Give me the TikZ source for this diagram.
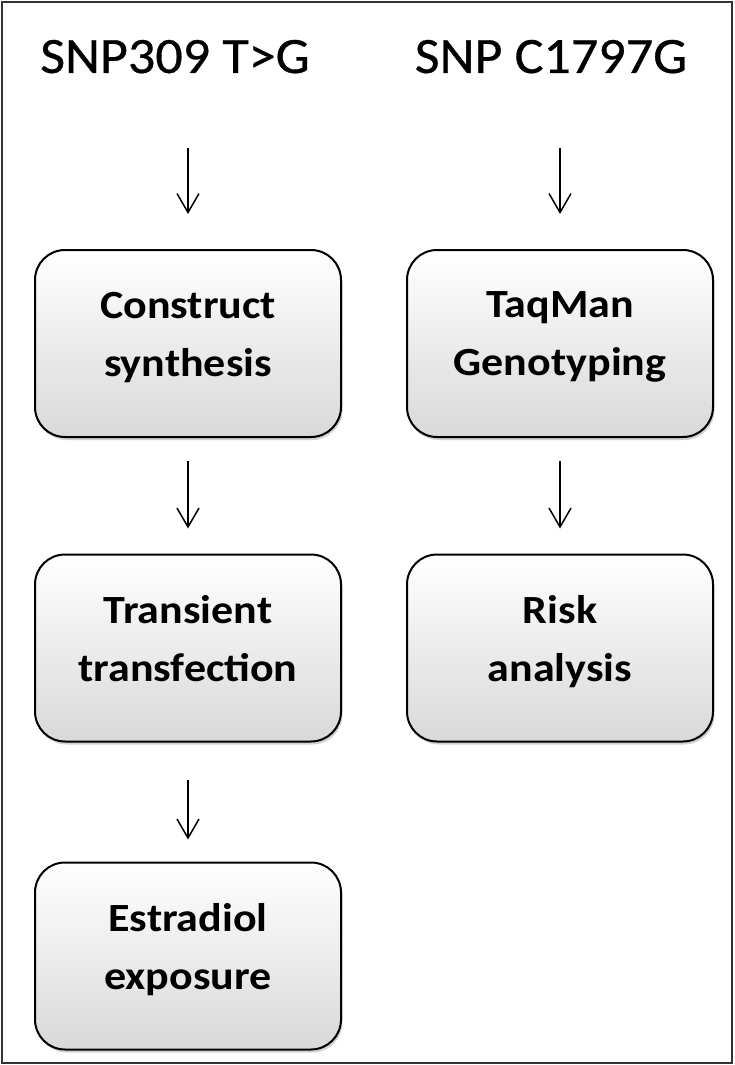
\documentclass[tikz,border=0pt]{standalone}
\usepackage{fontspec}
\setmainfont{Carlito}
\newfontfamily\boxfont[FakeStretch=1.1]{Carlito}
\newfontfamily\headfont[FakeStretch=1.06,FakeBold=0.6]{Carlito}
\usetikzlibrary{arrows.meta,shadows}
\begin{document}
\begin{tikzpicture}[x=1pt,y=-1pt,
  stepbox/.style={draw=black, line width=2pt, rounded corners=30pt,
    minimum width=306pt, minimum height=187pt, top color=white, bottom color=black!15,
    drop shadow={shadow xshift=1.5pt, shadow yshift=-3pt, fill=black!35, opacity=0.5},
    align=center, font=\boxfont\fontsize{40}{58}\selectfont\bfseries, inner sep=0pt,
    execute at end node={\rule[-19pt]{0pt}{1pt}}},
  head/.style={font=\headfont\fontsize{51}{60}\selectfont, inner sep=0pt, anchor=base},
  flow/.style={line width=1.5pt, -{Straight Barb[length=19pt,width=22pt,line width=1.5pt]}}]
\useasboundingbox (0,0) rectangle (734,1065);
\draw[line width=2pt, draw=black!80] (2,2) rectangle (732,1063);
\node[head] (h1) at (175,73) {SNP309 T>G};
\node[head] (h2) at (551,73) {SNP C1797G};
\node[stepbox] (a1) at (188,343.5) {Construct\\synthesis};
\node[stepbox] (a2) at (188,648) {Transient\\transfection};
\node[stepbox] (a3) at (188,956) {Estradiol\\exposure};
\node[stepbox] (b1) at (560,343.5) {TaqMan\\Genotyping};
\node[stepbox] (b2) at (560,648) {Risk\\analysis};
\coordinate (s1) at (188,148);
\coordinate (s2) at (560,148);
\draw[flow] (s1) -- ([yshift=35pt]a1.north);
\draw[flow] (s2) -- ([yshift=35pt]b1.north);
\draw[flow] ([yshift=-23pt]a1.south) -- ([yshift=25pt]a2.north);
\draw[flow] ([yshift=-23pt]b1.south) -- ([yshift=25pt]b2.north);
\draw[flow] ([yshift=-37pt]a2.south) -- ([yshift=22pt]a3.north);
\end{tikzpicture}
\end{document}
